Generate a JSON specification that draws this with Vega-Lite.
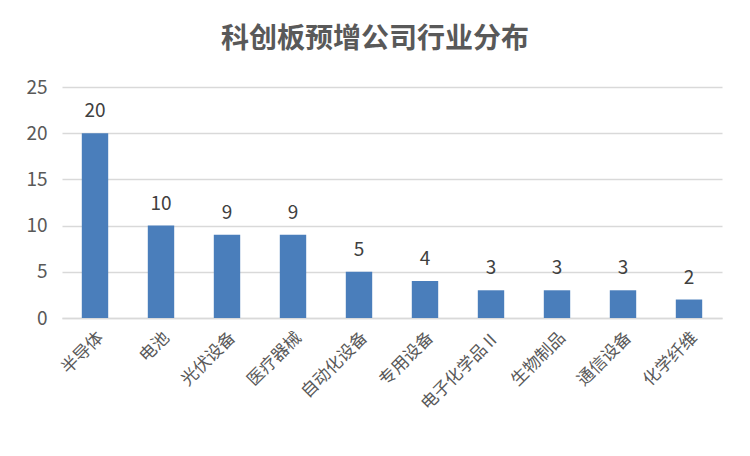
{
  "$schema": "https://vega.github.io/schema/vega-lite/v6.json",
  "autosize": {"type": "none"},
  "width": 660,
  "height": 231,
  "padding": {"left": 62, "top": 87, "right": 28, "bottom": 138},
  "background": "white",
  "title": {
    "text": "科创板预增公司行业分布",
    "font": "Noto Sans CJK SC",
    "fontSize": 28,
    "fontWeight": "bold",
    "color": "#595959",
    "anchor": "middle",
    "dx": -17,
    "offset": 24
  },
  "data": {
    "values": [
      {"industry": "半导体", "count": 20},
      {"industry": "电池", "count": 10},
      {"industry": "光伏设备", "count": 9},
      {"industry": "医疗器械", "count": 9},
      {"industry": "自动化设备", "count": 5},
      {"industry": "专用设备", "count": 4},
      {"industry": "电子化学品Ⅱ", "count": 3},
      {"industry": "生物制品", "count": 3},
      {"industry": "通信设备", "count": 3},
      {"industry": "化学纤维", "count": 2}
    ]
  },
  "encoding": {
    "x": {
      "field": "industry",
      "type": "nominal",
      "sort": null,
      "scale": {"paddingInner": 0.6, "paddingOuter": 0.3},
      "axis": {
        "title": null,
        "labelAngle": -45,
        "labelFont": "Noto Sans CJK SC",
        "labelFontSize": 17,
        "labelColor": "#595959",
        "ticks": false,
        "domainColor": "#d9d9d9",
        "domainWidth": 1.5,
        "labelPadding": 11
      }
    },
    "y": {
      "field": "count",
      "type": "quantitative",
      "scale": {"domain": [0, 25]},
      "axis": {
        "title": null,
        "values": [0, 5, 10, 15, 20, 25],
        "labelFont": "Noto Sans CJK SC",
        "labelFontSize": 19,
        "labelColor": "#595959",
        "ticks": false,
        "domain": false,
        "gridColor": "#d9d9d9",
        "gridWidth": 1.5,
        "labelPadding": 15
      }
    }
  },
  "layer": [
    {"mark": {"type": "bar", "color": "#4a7ebb"}},
    {
      "mark": {"type": "text", "baseline": "alphabetic", "dy": -16, "font": "Noto Sans CJK SC", "fontSize": 19, "color": "#404040"},
      "encoding": {"text": {"field": "count", "type": "quantitative"}}
    }
  ],
  "config": {"view": {"stroke": null}}
}
